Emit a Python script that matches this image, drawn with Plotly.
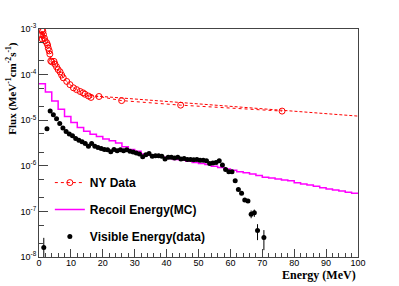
import plotly.graph_objects as go

# ---------------- data ----------------
# NY data (open red circles), energy in MeV, flux as log10 value
ny_energy = [0.8, 0.9, 1.0, 1.2, 1.4, 1.7, 1.9, 2.4, 2.7, 2.9, 3.2, 3.4, 3.7, 4.0, 4.7,
             5.0, 5.5, 6.0, 6.6, 7.1, 7.6, 8.7, 9.7, 10.8, 11.8, 12.9, 13.8, 14.4,
             15.5, 16.3, 18.8, 25.9, 44.4, 76.2]
ny_logflux = [-3.13, -3.02, -3.22, -3.05, -3.12, -3.20, -3.26, -3.30, -3.35, -3.42, -3.48,
              -3.55, -3.70, -3.72, -3.71, -3.77, -3.83, -3.89, -3.94, -4.01, -4.07, -4.15,
              -4.22, -4.29, -4.33, -4.37, -4.40, -4.43, -4.47, -4.50, -4.48, -4.57,
              -4.67, -4.80]
# dashed tail line of the NY data
ny_tail_energy = [16.0, 100.0]
ny_tail_logflux = [-4.46, -4.91]

# Recoil energy (MC) histogram, 2 MeV bins
recoil_edges = list(range(0, 101, 2))
recoil_logflux = [-4.20, -4.38, -4.58, -4.76, -4.92, -5.05, -5.16, -5.24, -5.31, -5.36,
                  -5.41, -5.45, -5.50, -5.58, -5.64, -5.68, -5.74, -5.77, -5.79, -5.81,
                  -5.84, -5.86, -5.88, -5.90, -5.93, -5.95, -5.97, -6.01, -6.04, -6.07,
                  -6.10, -6.13, -6.15, -6.18, -6.21, -6.25, -6.27, -6.29, -6.31, -6.33,
                  -6.37, -6.40, -6.42, -6.45, -6.48, -6.51, -6.53, -6.55, -6.58, -6.60]

# Visible energy (data), black points
vis_energy = [1.5, 2.5, 3.5, 4.5, 5.5, 6.5, 7.5, 8.5, 9.5, 10.5, 11.5, 12.5, 13.5, 14.5,
              15.5, 16.5, 17.5, 18.5, 19.5, 20.5, 21.5, 22.5, 23.5, 24.5, 25.5, 26.5,
              27.5, 28.5, 29.5, 30.5, 31.5, 32.5, 33.5, 34.5, 35.5, 36.5, 37.5, 38.5,
              39.5, 40.5, 41.5, 42.5, 43.5, 44.5, 45.5, 46.5, 47.5, 48.5, 49.5, 50.5,
              51.5, 52.5, 53.5, 54.5, 55.5, 56.5, 57.5, 58.5, 59.5, 60.5, 61.5, 62.5,
              63.5, 64.5, 65.5, 66.5, 67.5, 68.5, 70.5]
vis_logflux = [-7.79, -5.19, -4.80, -4.88, -4.97, -5.07, -5.17, -5.25, -5.30, -5.34, -5.40,
               -5.44, -5.47, -5.51, -5.57, -5.51, -5.57, -5.60, -5.62, -5.64, -5.65, -5.69,
               -5.64, -5.67, -5.65, -5.67, -5.65, -5.68, -5.70, -5.72, -5.74, -5.80, -5.76,
               -5.73, -5.79, -5.78, -5.78, -5.79, -5.85, -5.81, -5.81, -5.83, -5.81, -5.85,
               -5.84, -5.86, -5.86, -5.87, -5.86, -5.88, -5.88, -5.89, -5.95, -5.94, -5.93,
               -5.89, -5.98, -6.08, -6.13, -6.13, -6.33, -6.52, -6.60, -6.75, -6.77, -7.06,
               -7.03, -7.42, -7.57]
# error bar ends (log10) for the points that show them; others none
vis_err_hi_log = {1.5: -7.58, 66.5: -6.98, 67.5: -6.96, 68.5: -7.28, 70.5: -7.41}
vis_err_lo_log = {1.5: -8.40, 66.5: -7.15, 67.5: -7.12, 68.5: -7.63, 70.5: -7.85}

x_ticks = [0, 10, 20, 30, 40, 50, 60, 70, 80, 90, 100]
y_tick_exps = [-3, -4, -5, -6, -7, -8]

# ---------------- build ----------------
def lin(v):
    return 10 ** v

ny_sorted = sorted(zip(ny_energy, ny_logflux))
ny_x = [p[0] for p in ny_sorted]
ny_y = [lin(p[1]) for p in ny_sorted]

rec_x = recoil_edges[:-1] + [recoil_edges[-1]]
rec_y = [lin(v) for v in recoil_logflux] + [lin(recoil_logflux[-1])]

vis_y = [lin(v) for v in vis_logflux]
err_plus, err_minus = [], []
for e, v in zip(vis_energy, vis_logflux):
    if e in vis_err_hi_log:
        err_plus.append(lin(vis_err_hi_log[e]) - lin(v))
        err_minus.append(lin(v) - lin(vis_err_lo_log[e]))
    else:
        err_plus.append(0)
        err_minus.append(0)

RED = "#ff0000"
MAG = "#ff00ff"

fig = go.Figure()
fig.add_trace(go.Scatter(
    x=ny_tail_energy, y=[lin(v) for v in ny_tail_logflux], mode="lines",
    line=dict(color=RED, width=1, dash="3px,2px"), showlegend=False, hoverinfo="skip"))
fig.add_trace(go.Scatter(
    x=ny_x, y=ny_y, mode="lines+markers", name="<b>NY Data</b>", legendgroup="a",
    line=dict(color=RED, width=1, dash="dot"),
    marker=dict(symbol="circle-open", size=6, color=RED, line=dict(width=1, color=RED))))
fig.add_trace(go.Scatter(
    x=rec_x, y=rec_y, mode="lines", name="<b>Recoil Energy(MC)</b>", legendgroup="b",
    line=dict(color=MAG, width=1.5, shape="hv")))
fig.add_trace(go.Scatter(
    x=vis_energy, y=vis_y, mode="markers", name="<b>Visible Energy(data)</b>", legendgroup="c",
    marker=dict(color="black", size=5),
    error_y=dict(type="data", symmetric=False, array=err_plus, arrayminus=err_minus,
                 color="black", thickness=1, width=0)))

axis_common = dict(showline=True, linecolor="#444", linewidth=1, mirror=True,
                   ticks="inside", tickcolor="#444", showgrid=False, zeroline=False,
                   tickfont=dict(family="Liberation Sans", size=9, color="black"))

fig.update_xaxes(range=[0, 100], tickvals=x_ticks, ticklen=8, ticklabelstandoff=-3,
                 minor=dict(dtick=2, ticks="inside", ticklen=4, tickcolor="#444"),
                 **axis_common)
fig.update_yaxes(type="log", range=[-8, -3],
                 tickvals=[lin(e) for e in y_tick_exps],
                 ticktext=["10<sup>%d</sup>" % e for e in y_tick_exps],
                 ticklen=9,
                 minor=dict(ticks="inside", ticklen=5, tickcolor="#444"),
                 **axis_common)

fig.add_annotation(text="<b>Flux (MeV<sup>-1</sup>cm<sup>-2</sup>s<sup>-1</sup>)</b>",
                   xref="paper", yref="paper", x=-0.085, y=0.742, textangle=-90,
                   showarrow=False, xanchor="center", yanchor="middle",
                   font=dict(family="Liberation Serif", size=11, color="black"))
fig.add_annotation(text="<b>Energy (MeV)</b>", xref="paper", yref="paper",
                   x=1.0, y=-0.08, xanchor="right", yanchor="middle", showarrow=False,
                   font=dict(family="Liberation Serif", size=12, color="black"))

fig.update_layout(
    width=399, height=286,
    margin=dict(l=39, r=41, t=29, b=29),
    paper_bgcolor="white", plot_bgcolor="white",
    legend=dict(x=0.034, y=0.39, xanchor="left", yanchor="top",
                bgcolor="rgba(0,0,0,0)", borderwidth=0, tracegroupgap=8,
                font=dict(family="Liberation Sans", size=12, color="black"),
                itemwidth=30),
)

fig.write_html("out.html", config={"displayModeBar": False},
               post_script="document.body.style.margin='0';document.body.style.padding='0';")
